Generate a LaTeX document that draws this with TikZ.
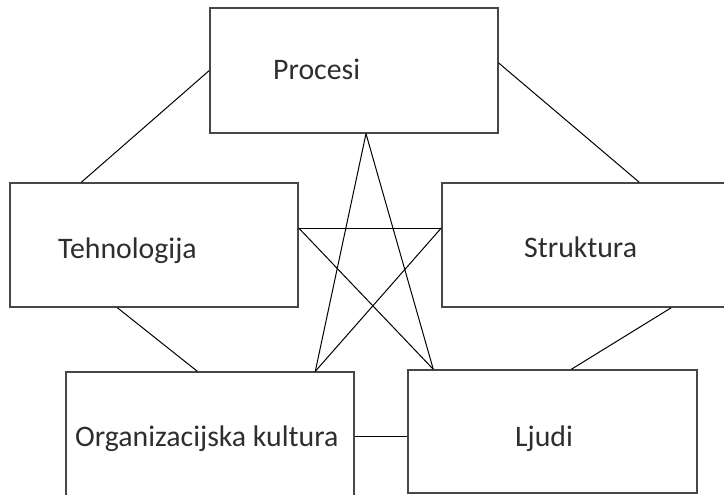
\documentclass[tikz,border=0pt]{standalone}
\usepackage{fontspec}
\setmainfont{Carlito}
\begin{document}
\begin{tikzpicture}[x=1pt,y=-1pt,
  boxnode/.style={draw=black!72,line width=1.4pt,rectangle,inner sep=0pt,fill=white},
  lbl/.style={anchor=base west,inner sep=0pt,text=black!82,font=\fontsize{29.8}{34}\selectfont},
  conn/.style={draw=black,line width=1pt}]
\useasboundingbox (0,0) rectangle (724,495);
\clip (0,0) rectangle (724,495);
% boxes
\node[boxnode,minimum width=288pt,minimum height=125pt] (P) at (354,70.5) {};
\node[boxnode,minimum width=288pt,minimum height=124pt] (T) at (154,245) {};
\node[boxnode,minimum width=288pt,minimum height=124pt] (S) at (586,245) {};
\node[boxnode,minimum width=288pt,minimum height=125pt] (O) at (210,434.5) {};
\node[boxnode,minimum width=289pt,minimum height=123pt] (L) at (552.5,431.5) {};
% labels
\node[lbl] (tP) at (273,80) {Procesi};
\node[lbl] (tT) at (58,258) {Tehnologija};
\node[lbl] (tS) at (524,257) {Struktura};
\node[lbl] (tO) at (75,446) {Organizacijska kultura};
\node[lbl] (tL) at (515,446) {Ljudi};
% outer connectors
\draw[conn] (P.west) -- ([xshift=72pt]T.north west);
\draw[conn] ([yshift=7.5pt]P.east) -- ([xshift=198pt]S.north west);
\draw[conn] ([xshift=108pt]T.south west) -- ([xshift=132pt]O.north west);
\draw[conn] ([xshift=230pt]S.south west) -- ([xshift=164pt]L.north west);
\draw[conn] ([yshift=-1.5pt]O.east) -- ([yshift=-1.5pt]O.east -| L.west);
% star
\coordinate (apex) at ([xshift=12pt]P.south);
\coordinate (tr) at ([yshift=17pt]T.east);
\coordinate (sl) at ([yshift=17pt]S.west);
\coordinate (ot) at ([xshift=250pt]O.north west);
\coordinate (lt) at ([xshift=26pt]L.north west);
\draw[conn] (apex) -- (ot);
\draw[conn] (apex) -- (lt);
\draw[conn] (tr) -- (sl);
\draw[conn] (tr) -- (lt);
\draw[conn] (sl) -- (ot);
\end{tikzpicture}
\end{document}
